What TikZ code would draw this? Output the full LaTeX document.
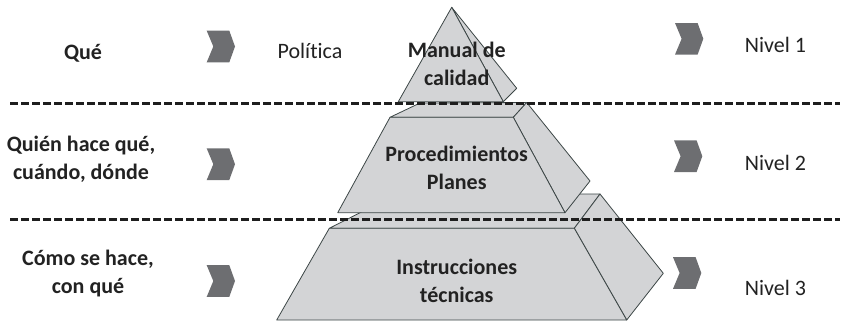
\documentclass[tikz,border=0pt]{standalone}
\usepackage{fontspec}
\setmainfont{Carlito}[Ligatures=CommonOff]
\definecolor{facefill}{HTML}{D3D4D6}
\definecolor{edgecol}{HTML}{3C4646}
\definecolor{chevcol}{HTML}{6D6E71}
\definecolor{txtcol}{HTML}{222222}
\definecolor{dashcol}{HTML}{1E1E1E}
\begin{document}
\begin{tikzpicture}[x=1pt,y=-1pt,
  face/.style={fill=facefill,draw=edgecol,line width=0.8pt,line join=round},
  sepline/.style={draw=dashcol,line width=3pt,dash pattern=on 8pt off 3pt},
  lbl/.style={text=txtcol,font=\fontsize{22}{28}\selectfont,align=center,inner sep=0pt},
  blbl/.style={lbl,font=\fontsize{22}{28}\selectfont\bfseries},
  chev/.pic={\fill[chevcol] (0,-15.8) -- (22.6,-15.8) -- (28.3,0) -- (22.6,15.8) -- (0,15.8) -- (6.6,0) -- cycle;}
]
\useasboundingbox (0,0) rectangle (842,322);
% bottom frustum
\path[face] (329.3,228.3) -- (397,194) -- (600,194) -- (574.3,228.3) -- cycle;
\path[face] (574.3,228.3) -- (600,194) -- (663.3,273.3) -- (626.7,320) -- cycle;
\path[face] (329.3,228.3) -- (574.3,228.3) -- (626.7,320) -- (276.7,320) -- cycle;
% middle frustum
\path[face] (390,117.3) -- (420,103) -- (526.7,102.5) -- (513.3,117.3) -- cycle;
\path[face] (513.3,117.3) -- (526.7,102.5) -- (590,181) -- (565,212.7) -- cycle;
\path[face] (390,117.3) -- (513.3,117.3) -- (565,212.7) -- (337.7,212.7) -- cycle;
% top pyramid
\path[face] (451.7,7.3) -- (516.7,88.3) -- (503.3,101.7) -- cycle;
\path[face] (451.7,7.3) -- (503.3,101.7) -- (398.3,101.7) -- cycle;
% separators
\coordinate (s1a) at (10,103.5);
\coordinate (s1b) at (840,103.5);
\coordinate (s2a) at (10,219);
\coordinate (s2b) at (840,219);
\draw[sepline] (s1a) -- (s1b);
\draw[sepline] (s2a) -- (s2b);
% chevrons
\pic at (206.7,46.5) {chev};
\pic at (206.7,164.2) {chev};
\pic at (206.7,281) {chev};
\pic at (675,38.8) {chev};
\pic at (674,156.2) {chev};
\pic at (673,273) {chev};
% texts
\node[blbl,anchor=base] (que) at (83,59.5) {Qué};
\node[blbl] (quien) at (81,159) {Quién hace qué,\\cuándo, dónde};
\node[blbl] (como) at (88,274) {Cómo se hace,\\con qué};
\node[lbl,anchor=base] (pol) at (310,58) {Política};
\node[blbl] (manual) at (456.7,64) {Manual de\\calidad};
\node[blbl] (proc) at (456.7,168) {Procedimientos\\Planes};
\node[blbl] (instr) at (456.7,281) {Instrucciones\\técnicas};
\node[lbl,anchor=base] (n1) at (775.5,52.5) {Nivel 1};
\node[lbl,anchor=base] (n2) at (775.5,170.5) {Nivel 2};
\node[lbl,anchor=base] (n3) at (775.5,295) {Nivel 3};
\end{tikzpicture}
\end{document}
